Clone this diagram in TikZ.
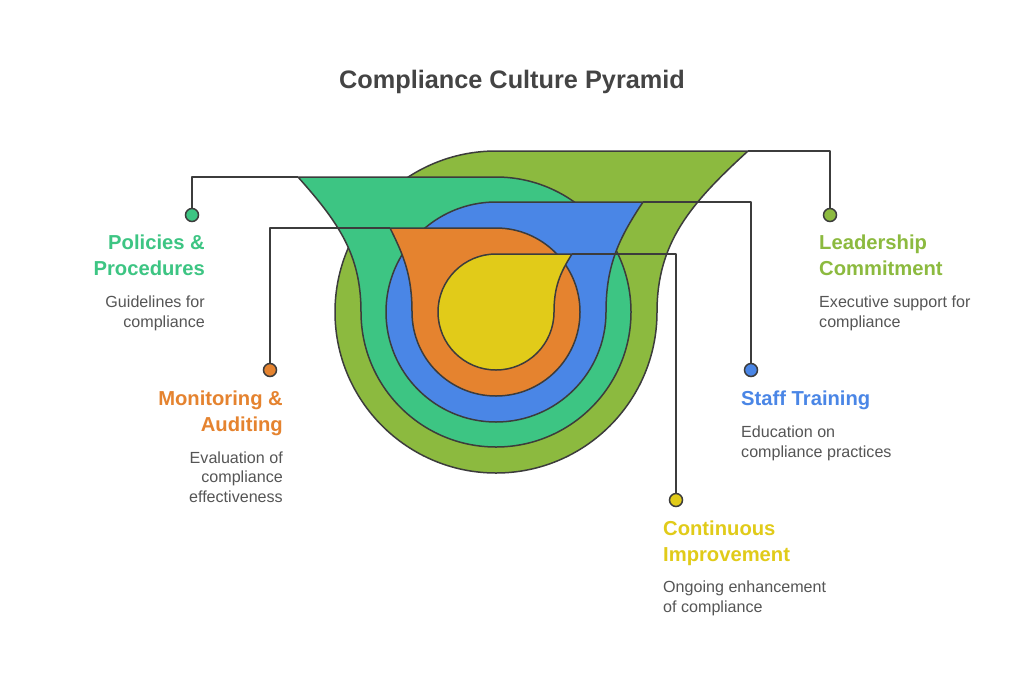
\documentclass[tikz,border=0pt]{standalone}
\usepackage{fontspec}
\setmainfont{Liberation Sans}
\definecolor{cGreen}{HTML}{8CBA3F}
\definecolor{cTeal}{HTML}{3DC583}
\definecolor{cBlue}{HTML}{4A86E6}
\definecolor{cOrange}{HTML}{E5832F}
\definecolor{cYellow}{HTML}{E1CB19}
\definecolor{cLine}{HTML}{3C3C3C}
\definecolor{cText}{HTML}{555555}
\definecolor{cTitle}{HTML}{444444}
\tikzset{
  layer/.style={draw=cLine, line width=1.5pt, line join=round},
  conn/.style={draw=cLine, line width=1.8pt, line join=round},
  dot/.style={circle, draw=cLine, line width=1.5pt, minimum size=13pt, inner sep=0pt},
  head/.style={font=\fontsize{20.2}{26}\selectfont\bfseries, inner sep=0pt},
  desc/.style={font=\fontsize{16.1}{19.5}\selectfont, text=cText, inner sep=0pt},
}
\begin{document}
\begin{tikzpicture}[x=1pt,y=-1pt]
\useasboundingbox[fill=white] (0,0) rectangle (1024,683);
\node[font=\fontsize{25.3}{30}\selectfont\bfseries, text=cTitle] (title) at (512,82) {Compliance Culture Pyramid};

% layers, back to front
\filldraw[layer, fill=cGreen] (496,151) -- (748,151) .. controls (690,204) and (657,243) .. (657,312) arc[start angle=0,end angle=270,radius=161] -- cycle;
\filldraw[layer, fill=cTeal] (496,177) -- (298,177) .. controls (338,222) and (361,254) .. (361,312) arc[start angle=180,end angle=-90,radius=135] -- cycle;
\filldraw[layer, fill=cBlue] (496,202) -- (643,202) .. controls (619,238) and (606,265) .. (606,312) arc[start angle=0,end angle=270,radius=110] -- cycle;
\filldraw[layer, fill=cOrange] (496,228) -- (390,228) .. controls (404,256) and (412,276) .. (412,312) arc[start angle=180,end angle=-90,radius=84] -- cycle;
\filldraw[layer, fill=cYellow] (496,254) -- (572,254) .. controls (560,273) and (554,287) .. (554,312) arc[start angle=0,end angle=270,radius=58] -- cycle;

\coordinate (tipG) at (748,151);
\coordinate (tipT) at (298,177);
\coordinate (tipB) at (643,202);
\coordinate (tipO) at (390,228);
\coordinate (tipY) at (572,254);

% dots
\node[dot, fill=cTeal] (dotT) at (192,215) {};
\node[dot, fill=cGreen] (dotG) at (830,215) {};
\node[dot, fill=cOrange] (dotO) at (270,370) {};
\node[dot, fill=cBlue] (dotB) at (751,370) {};
\node[dot, fill=cYellow] (dotY) at (676,500) {};

% connectors
\draw[conn] (dotT.north) |- (tipT);
\draw[conn] (dotG.north) |- (tipG);
\draw[conn] (dotO.north) |- (tipO);
\draw[conn] (dotB.north) |- (tipB);
\draw[conn] (dotY.north) |- (tipY);

% labels (base anchor = baseline of last line)
\node[head, text=cTeal, anchor=base east, align=right] (hT) at (205,275) {Policies \&\\Procedures};
\node[desc, anchor=base east, align=right] (dT) at (205,327) {Guidelines for\\compliance};
\node[head, text=cOrange, anchor=base east, align=right] (hO) at (283,431) {Monitoring \&\\Auditing};
\node[desc, anchor=base east, align=right] (dO) at (283,502) {Evaluation of\\compliance\\effectiveness};
\node[head, text=cGreen, anchor=base west, align=left] (hG) at (819,275) {Leadership\\Commitment};
\node[desc, anchor=base west, align=left] (dG) at (819,327) {Executive support for\\compliance};
\node[head, text=cBlue, anchor=base west, align=left] (hB) at (741,405) {Staff Training};
\node[desc, anchor=base west, align=left] (dB) at (741,457) {Education on\\compliance practices};
\node[head, text=cYellow, anchor=base west, align=left] (hY) at (663,561) {Continuous\\Improvement};
\node[desc, anchor=base west, align=left] (dY) at (663,612) {Ongoing enhancement\\of compliance};
\end{tikzpicture}
\end{document}
